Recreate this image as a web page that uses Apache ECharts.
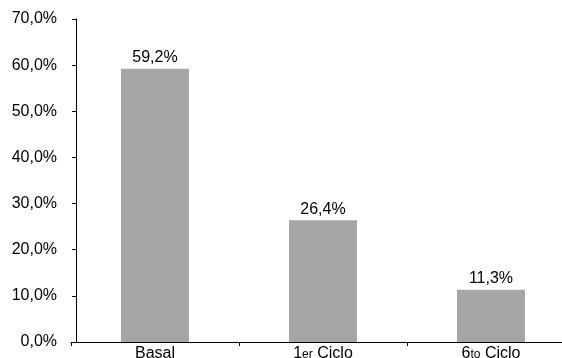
<!DOCTYPE html>
<html><head><meta charset="utf-8">
<script src="https://cdn.jsdelivr.net/npm/echarts@6/dist/echarts.min.js"></script>
<style>html,body{margin:0;padding:0;background:#fff}#c{width:562px;height:358px}</style>
</head><body><div id="c"></div>
<script>
var categories = ['Basal', '1er Ciclo', '6to Ciclo'];
var values = [59.2, 26.4, 11.3];
var yTicks = [0, 10, 20, 30, 40, 50, 60, 70];

function pct(v){ return v.toFixed(1).replace('.', ',') + '%'; }
var FONT = 'Liberation Sans';
var yMin = yTicks[0], yMax = yTicks[yTicks.length-1];
var chart = echarts.init(document.getElementById('c'));
chart.setOption({
  animation: false,
  grid: [
    { left: 71, right: -13, top: 19, bottom: 16, containLabel: false, outerBoundsMode: 'none' },
    { left: 76, right: 4, top: 19, bottom: 16, containLabel: false, outerBoundsMode: 'none' }
  ],
  xAxis: [{
    gridIndex: 0, type: 'category', data: categories,
    axisLine: { lineStyle: { color: '#000', width: 1 } },
    axisTick: { show: true, inside: false, length: 4, interval: 0, lineStyle: { color: '#000' } },
    axisLabel: {
      interval: 0, hideOverlap: false,
      margin: 2, color: '#000', fontFamily: FONT, fontSize: 16,
      formatter: function(v){
        var m = v.match(/^(\d)(\w+) (.*)$/);
        if (m) return '{b|' + m[1] + '}{s|' + m[2] + '}{b| ' + m[3] + '}';
        return '{b|' + v + '}';
      },
      rich: {
        b: { fontSize: 16, lineHeight: 18, fontFamily: FONT, color: '#000', verticalAlign: 'bottom' },
        s: { fontSize: 12, lineHeight: 18, fontFamily: FONT, color: '#000', verticalAlign: 'bottom', padding: [0, 0, 1, 0] }
      }
    }
  }, {
    gridIndex: 1, type: 'category', data: categories, show: false
  }],
  yAxis: [{
    gridIndex: 0, type: 'value', min: yMin, max: yMax, interval: 10, show: false
  }, {
    gridIndex: 1, type: 'value', min: yMin, max: yMax, interval: 10,
    axisLine: { show: true, onZero: false, lineStyle: { color: '#000', width: 1 } },
    axisTick: { show: true, length: 4, lineStyle: { color: '#000' } },
    splitLine: { show: false },
    axisLabel: { margin: 19, color: '#000', fontFamily: FONT, fontSize: 16, formatter: pct }
  }],
  series: [{
    type: 'bar', xAxisIndex: 0, yAxisIndex: 0, data: values, barWidth: 68,
    itemStyle: { color: '#a6a6a6' },
    label: { show: true, position: 'top', distance: 3, color: '#000', fontFamily: FONT, fontSize: 16, formatter: function(p){ return pct(p.value); } }
  }]
});
</script></body></html>
